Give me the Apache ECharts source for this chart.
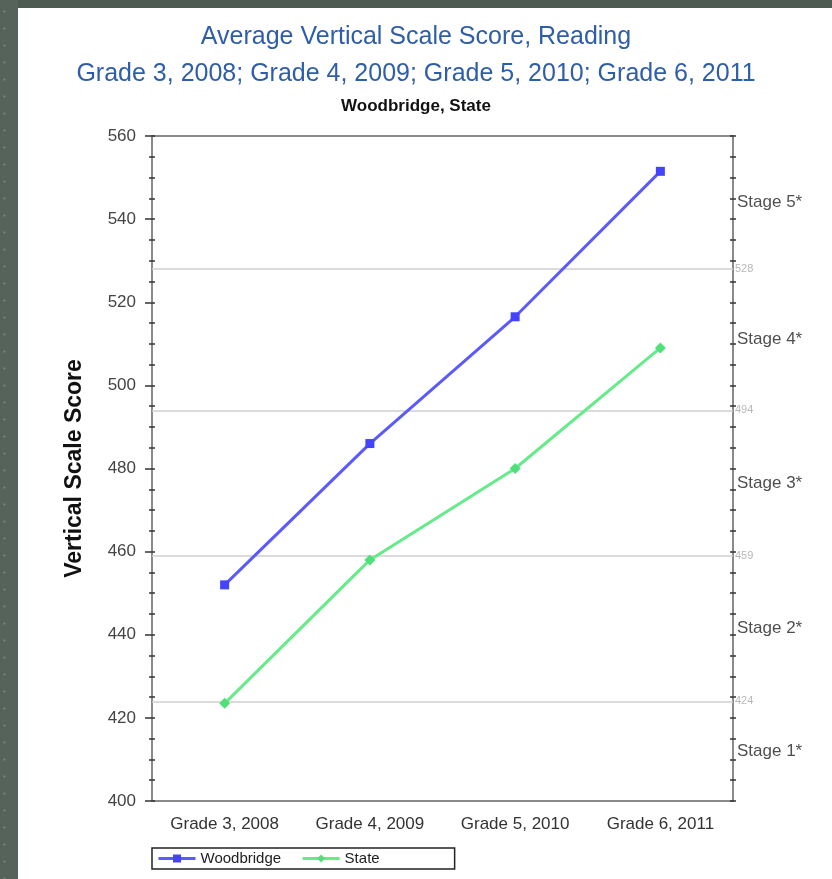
<!DOCTYPE html>
<html>
<head>
<meta charset="utf-8">
<script src="https://cdn.jsdelivr.net/npm/echarts@6/dist/echarts.min.js"></script>
<style>
html,body{margin:0;padding:0;background:#4d5b53;}
#strip{position:absolute;left:0;top:0;width:18px;height:879px;background-color:#56635b;
background-image:radial-gradient(#6f7b73 1.2px, transparent 1.4px);background-size:17px 17px;background-position:-4px 3px;}
#chart{position:absolute;left:0;top:0;width:832px;height:879px;}
</style>
</head>
<body>
<div id="strip"></div>
<div id="chart"></div>
<script>
// ---- data ----
var categories = ['Grade 3, 2008', 'Grade 4, 2009', 'Grade 5, 2010', 'Grade 6, 2011'];
var woodbridge = [452, 486, 516.5, 551.5];
var stateVals = [423.5, 458, 480, 509];
var cutScores = [424, 459, 494, 528];
var stageNames = ['Stage 1*', 'Stage 2*', 'Stage 3*', 'Stage 4*', 'Stage 5*'];
var stageMid = [412, 441.5, 476.5, 511, 544];
var yMin = 400, yMax = 560, yStep = 20;

var chart = echarts.init(document.getElementById('chart'));
var sans = '"Liberation Sans", Arial, sans-serif';

var axisGray = '#8a8a8a';
var tickDark = '#333';

function tickAxisY(position, inside, showLine) {
  return {type: 'value', min: yMin, max: yMax, interval: yStep, position: position,
    axisLine: {show: showLine, lineStyle: {color: axisGray, width: 2}},
    axisTick: {show: true, inside: inside, length: 3, lineStyle: {color: tickDark, width: 1.5}},
    minorTick: {show: true, splitNumber: 4, length: 3, lineStyle: {color: tickDark, width: 1.5}},
    splitLine: {show: false}, axisLabel: {show: false}};
}

var option = {
  animation: false,
  backgroundColor: 'transparent',
  graphic: [{
    type: 'rect', z: -10, silent: true,
    shape: {x: 18, y: 8, width: 814, height: 871},
    style: {fill: '#ffffff'}
  }],
  title: [
    {text: 'Average Vertical Scale Score, Reading', left: 'center', top: 20,
     textStyle: {fontFamily: sans, fontSize: 25, fontWeight: 'normal', color: '#2f5ea9'}},
    {text: 'Grade 3, 2008; Grade 4, 2009; Grade 5, 2010; Grade 6, 2011', left: 'center', top: 57,
     textStyle: {fontFamily: sans, fontSize: 25, fontWeight: 'normal', color: '#2f5ea9'}},
    {text: 'Woodbridge, State', left: 'center', top: 93,
     textStyle: {fontFamily: sans, fontSize: 17, fontWeight: 'bold', color: '#111'}}
  ],
  legend: {
    left: 152, top: 848,
    data: ['Woodbridge', 'State'],
    itemWidth: 37, itemHeight: 10, itemGap: 20,
    padding: [3, 75, 3, 5],
    borderColor: '#222', borderWidth: 1.5, borderRadius: 0,
    lineStyle: {width: 3},
    textStyle: {fontFamily: sans, fontSize: 15, color: '#222'}
  },
  grid: {left: 152, right: 99, top: 136, bottom: 78, containLabel: false},
  xAxis: [
    {type: 'category', data: categories, position: 'bottom', boundaryGap: true,
     axisLine: {lineStyle: {color: axisGray, width: 2}},
     axisTick: {alignWithLabel: true, length: 8, lineStyle: {color: tickDark, width: 1.5}},
     axisLabel: {margin: 15, fontFamily: sans, fontSize: 17, color: '#333'}},
    {type: 'category', data: categories, position: 'top', boundaryGap: true,
     axisLine: {lineStyle: {color: axisGray, width: 2}},
     axisTick: {inside: true, alignWithLabel: true, length: 5, lineStyle: {color: tickDark, width: 1.5}},
     axisLabel: {show: false}},
    {type: 'category', data: categories, position: 'bottom', boundaryGap: true,
     axisLine: {show: false},
     axisTick: {inside: true, alignWithLabel: true, length: 5, lineStyle: {color: tickDark, width: 1.5}},
     axisLabel: {show: false}},
    {type: 'value', min: 0, max: 1, show: false}
  ],
  yAxis: [
    {type: 'value', min: yMin, max: yMax, interval: yStep, position: 'left',
     name: 'Vertical Scale Score', nameLocation: 'middle', nameGap: 66, nameRotate: 90,
     nameTextStyle: {fontFamily: sans, fontSize: 23, fontWeight: 'bold', color: '#111'},
     axisLine: {show: true, lineStyle: {color: axisGray, width: 2}},
     axisTick: {show: true, length: 7, lineStyle: {color: tickDark, width: 1.5}},
     minorTick: {show: true, splitNumber: 4, length: 3, lineStyle: {color: tickDark, width: 1.5}},
     splitLine: {show: false},
     axisLabel: {margin: 16, fontFamily: sans, fontSize: 17, color: '#444'}},
    tickAxisY('left', true, false),
    tickAxisY('right', false, true),
    tickAxisY('right', true, false)
  ],
  series: [
    {name: 'Woodbridge', type: 'line', xAxisIndex: 0, yAxisIndex: 0, data: woodbridge,
     color: '#4f4fff', symbol: 'rect', symbolSize: 9, z: 5,
     lineStyle: {width: 3, color: '#5a5aff'}, itemStyle: {color: '#4444ff'},
     markLine: {
       silent: true, symbol: 'none',
       lineStyle: {color: '#cfcfcf', width: 1.5, type: 'solid'},
       label: {position: 'end', distance: 2, formatter: '{c}', fontFamily: sans, fontSize: 11, color: '#b8b8b8'},
       data: cutScores.map(function (v) { return {yAxis: v}; })
     }},
    {name: 'State', type: 'line', xAxisIndex: 0, yAxisIndex: 0, data: stateVals,
     color: '#55e27c', symbol: 'diamond', symbolSize: 11, z: 5,
     lineStyle: {width: 3, color: '#66ea8a'}, itemStyle: {color: '#4fe07a'}},
    {name: 'stages', type: 'scatter', xAxisIndex: 3, yAxisIndex: 0, silent: true,
     symbolSize: 0,
     data: stageMid.map(function (v, i) { return {value: [1, v], name: stageNames[i]}; }),
     label: {show: true, position: 'right', distance: 4, formatter: '{b}',
             fontFamily: sans, fontSize: 17, color: '#222'}}
  ]
};
chart.setOption(option);
</script>
</body>
</html>
